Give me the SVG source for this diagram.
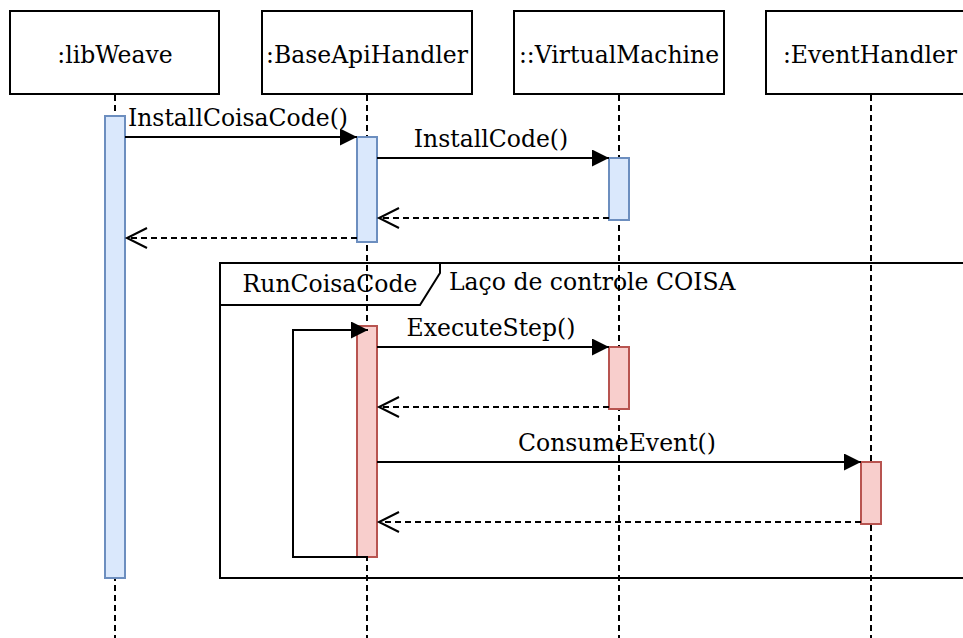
<svg xmlns="http://www.w3.org/2000/svg" width="963" height="638" viewBox="0 0 963 638">
  <style>
    text { font-family: "DejaVu Serif", "Liberation Serif", serif; font-size: 23.5px; fill: #000; }
    .head { fill: #fff; stroke: #000; stroke-width: 2; }
    .life { stroke: #000; stroke-width: 2; stroke-dasharray: 6 4; fill: none; }
    .act-blue { fill: #dae8fc; stroke: #6c8ebf; stroke-width: 2; }
    .act-red { fill: #f8cecc; stroke: #b85450; stroke-width: 2; }
    .frame { fill: none; stroke: #000; stroke-width: 2; }
    .call { stroke: #000; stroke-width: 2; fill: none; marker-end: url(#filled); }
    .ret { stroke: #000; stroke-width: 2; fill: none; stroke-dasharray: 6 4; marker-end: url(#open); }
  </style>
  <defs>
    <marker id="filled" markerUnits="userSpaceOnUse" markerWidth="18" markerHeight="18" refX="17" refY="8.5" orient="auto">
      <path d="M0,0 L17,8.5 L0,17 Z" fill="#000"/>
    </marker>
    <marker id="open" markerUnits="userSpaceOnUse" markerWidth="24" markerHeight="24" refX="21" refY="11" orient="auto">
      <path d="M1,1 L21,11 L1,21" fill="none" stroke="#000" stroke-width="2"/>
    </marker>
  </defs>

  <rect width="963" height="638" fill="#fff"/>

  <!-- combined fragment -->
  <g id="frame-runcoisacode">
    <rect class="frame" x="220" y="263" width="760" height="315"/>
    <path class="frame" d="M220,305 H420 L440,273 V263"/>
    <text x="330" y="292" text-anchor="middle">RunCoisaCode</text>
    <text x="449" y="290">Laço de controle COISA</text>
  </g>

  <!-- participants -->
  <g id="libweave">
    <rect class="head" x="10" y="11" width="209" height="83"/>
    <text x="115" y="63" text-anchor="middle">:libWeave</text>
    <line class="life" x1="115" y1="95" x2="115" y2="638"/>
    <rect class="act-blue" x="105" y="116" width="20" height="462"/>
  </g>

  <g id="baseapihandler">
    <rect class="head" x="262" y="11" width="210" height="83"/>
    <text x="367" y="63" text-anchor="middle">:BaseApiHandler</text>
    <line class="life" x1="367" y1="95" x2="367" y2="638"/>
    <rect class="act-blue" x="357" y="137" width="20" height="105"/>
    <rect class="act-red" x="357" y="326" width="20" height="231"/>
  </g>

  <g id="virtualmachine">
    <rect class="head" x="514" y="11" width="210" height="83"/>
    <text x="619" y="63" text-anchor="middle">::VirtualMachine</text>
    <line class="life" x1="619" y1="95" x2="619" y2="638"/>
    <rect class="act-blue" x="609" y="158" width="20" height="62"/>
    <rect class="act-red" x="609" y="347" width="20" height="62"/>
  </g>

  <g id="eventhandler">
    <rect class="head" x="766" y="11" width="210" height="83"/>
    <text x="870" y="63" text-anchor="middle">:EventHandler</text>
    <line class="life" x1="871" y1="95" x2="871" y2="638"/>
    <rect class="act-red" x="861" y="462" width="20" height="62"/>
  </g>

  <!-- messages -->
  <g id="connectors">
    <line class="call" x1="125" y1="137" x2="357" y2="137"/>
    <text x="238" y="126" text-anchor="middle">InstallCoisaCode()</text>

    <line class="call" x1="377" y1="158" x2="609" y2="158"/>
    <text x="491" y="147" text-anchor="middle">InstallCode()</text>

    <line class="ret" x1="609" y1="218" x2="379" y2="218"/>
    <line class="ret" x1="357" y1="238" x2="127" y2="238"/>

    <path class="call" d="M368,557 H293 V330 H368"/>

    <line class="call" x1="377" y1="347" x2="609" y2="347"/>
    <text x="491" y="336" text-anchor="middle">ExecuteStep()</text>

    <line class="ret" x1="609" y1="407" x2="379" y2="407"/>

    <line class="call" x1="377" y1="462" x2="861" y2="462"/>
    <text x="617" y="451" text-anchor="middle">ConsumeEvent()</text>

    <line class="ret" x1="861" y1="522" x2="379" y2="522"/>
  </g>
</svg>
